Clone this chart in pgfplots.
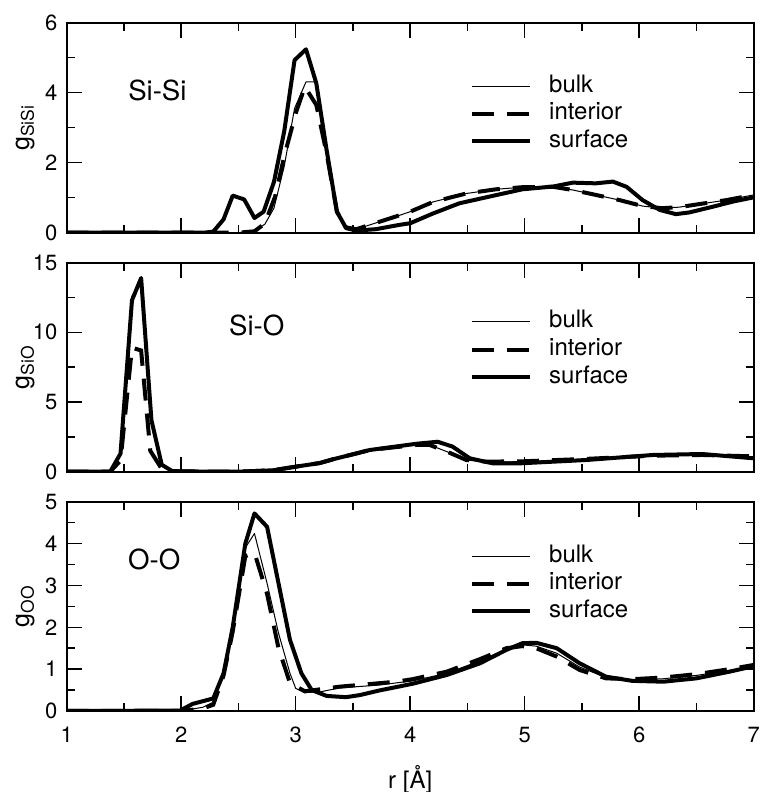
\documentclass[border=0pt]{standalone}
\usepackage{fontspec}
\setmainfont{TeX Gyre Heros}
\usepackage{pgfplots}
\pgfplotsset{compat=1.18}
\pgfplotsset{
  rdf/.style={
    scale only axis, width=343.5pt, anchor=south west,
    xmin=1, xmax=7, xtick={1,2,3,4,5,6,7}, minor x tick num=1,
    minor y tick num=1,
    tick align=inside,
    major tick length=7.5pt, minor tick length=4pt,
    axis line style={line width=1pt},
    every tick/.style={line width=0.75pt, black},
    /pgf/number format/assume math mode=true,
    tick label style={font=\fontsize{11}{13}\selectfont},
    yticklabel style={xshift=-1.2pt},
    xticklabel style={yshift=-4.5pt},
    legend cell align=left,
    legend image code/.code={\draw[##1] (0pt,0pt) -- (29pt,0pt);},
    legend style={draw=none, fill=none, inner sep=0pt, outer sep=0pt,
      font=\fontsize{12}{14}\selectfont, row sep=2.6pt,
      nodes={inner sep=0pt, text height=8.6pt, text depth=2.6pt},
      /tikz/every odd column/.style={column sep=8.6pt}},
    ylabel style={at={(axis description cs:-0.0607,0.5)}, anchor=center,
      font=\fontsize{12.5}{14}\selectfont},
  },
  bulk/.style={black, line width=0.5pt, line join=round},
  interior/.style={black, line width=2pt, dash pattern=on 11pt off 6.5pt},
  surface/.style={black, line width=2pt, line join=round},
}
\begin{document}
\begin{tikzpicture}
\useasboundingbox (0,0) rectangle (381pt,396pt);
% ---------------- Si-Si ----------------
\begin{axis}[rdf, at={(33.35pt,279.65pt)}, height=105pt,
  ymin=0, ymax=6, ytick={0,2,4,6}, xticklabels={},
  ylabel={g\textsubscript{SiSi}},
  legend style={at={(0.587,0.751)}, anchor=north west}]
\addplot[bulk] coordinates {(1.0,0) (2.5,0) (2.64,0.06) (2.73,0.24) (2.81,0.7) (2.90,1.9) (2.99,3.55) (3.09,4.31) (3.17,4.31) (3.27,2.3) (3.36,0.6) (3.44,0.15) (3.53,0.1) (3.73,0.31) (3.91,0.5) (4.0,0.6) (4.2,0.88) (4.49,1.12) (4.75,1.24) (4.98,1.30) (5.25,1.31) (5.42,1.22) (5.62,1.08) (5.83,0.93) (6.03,0.76) (6.2,0.7) (6.35,0.73) (6.53,0.82) (6.76,0.93) (7.0,1.08)};
\addlegendentry{bulk}
\addplot[interior] coordinates {(1.0,0) (2.5,0) (2.64,0.04) (2.73,0.26) (2.82,1.03) (2.90,2.18) (3.0,3.41) (3.08,4.17) (3.18,3.65) (3.27,2.27) (3.36,0.6) (3.44,0.15) (3.53,0.1) (3.73,0.31) (3.91,0.5) (4.0,0.6) (4.2,0.88) (4.49,1.12) (4.75,1.24) (4.98,1.30) (5.25,1.31) (5.42,1.22) (5.62,1.08) (5.83,0.93) (6.03,0.76) (6.2,0.7) (6.35,0.73) (6.53,0.82) (6.76,0.93) (7.0,1.08)};
\addlegendentry{interior}
\addplot[surface] coordinates {(1.0,0) (2.2,0) (2.28,0.03) (2.37,0.38) (2.45,1.06) (2.55,0.95) (2.64,0.42) (2.72,0.6) (2.81,1.45) (2.90,2.9) (2.99,4.93) (3.09,5.24) (3.18,4.27) (3.27,2.36) (3.36,0.6) (3.44,0.13) (3.53,0.06) (3.7,0.1) (3.9,0.22) (4.0,0.27) (4.2,0.55) (4.43,0.84) (4.69,1.03) (4.98,1.24) (5.25,1.32) (5.42,1.43) (5.62,1.41) (5.77,1.46) (5.89,1.31) (6.03,0.93) (6.18,0.65) (6.32,0.53) (6.44,0.58) (6.64,0.74) (6.82,0.89) (7.0,1.01)};
\addlegendentry{surface}
\node[font=\fontsize{13.8}{16}\selectfont] at (rel axis cs:0.132,0.676) {Si-Si};
\end{axis}
% ---------------- Si-O ----------------
\begin{axis}[rdf, at={(33.35pt,160.15pt)}, height=104.5pt,
  ymin=0, ymax=15, ytick={0,5,10,15}, xticklabels={},
  ylabel={g\textsubscript{SiO}},
  legend style={at={(0.587,0.770)}, anchor=north west}]
\addplot[bulk] coordinates {(1.0,0) (1.38,0) (1.47,1.2) (1.57,12.6) (1.65,13.6) (1.74,3.5) (1.83,0.4) (1.92,0.05) (2.0,0.02) (2.5,0) (2.8,0.1) (3.0,0.36) (3.21,0.62) (3.33,0.9) (3.65,1.56) (4.05,1.92) (4.17,1.92) (4.32,1.44) (4.49,0.84) (4.66,0.7) (5.0,0.72) (5.54,0.9) (6.12,1.15) (6.55,1.2) (7.0,1.08)};
\addlegendentry{bulk}
\addplot[interior] coordinates {(1.0,0) (1.38,0) (1.47,0.8) (1.57,8.9) (1.65,8.7) (1.73,1.5) (1.83,0.2) (1.92,0.03) (2.0,0.02) (2.5,0) (2.8,0.1) (3.0,0.36) (3.21,0.62) (3.33,0.9) (3.65,1.56) (4.05,1.92) (4.17,1.92) (4.32,1.44) (4.49,0.84) (4.66,0.72) (5.0,0.75) (5.54,0.92) (6.12,1.15) (6.55,1.2) (7.0,1.1)};
\addlegendentry{interior}
\addplot[surface] coordinates {(1.0,0) (1.38,0) (1.47,1.3) (1.57,12.3) (1.65,13.9) (1.74,3.7) (1.83,0.5) (1.92,0.05) (2.0,0.02) (2.5,0) (2.8,0.1) (3.0,0.36) (3.21,0.62) (3.33,0.9) (3.65,1.56) (4.05,2.0) (4.24,2.15) (4.37,1.8) (4.52,0.96) (4.72,0.6) (4.96,0.6) (5.54,0.84) (6.12,1.2) (6.55,1.27) (7.0,0.96)};
\addlegendentry{surface}
\node[font=\fontsize{13.8}{16}\selectfont] at (rel axis cs:0.2766,0.698) {Si-O};
\end{axis}
% ---------------- O-O ----------------
\begin{axis}[rdf, at={(33.35pt,40.5pt)}, height=104.65pt,
  ymin=0, ymax=5, ytick={0,1,2,3,4,5},
  ylabel={g\textsubscript{OO}},
  xlabel={r [Å]},
  xlabel style={at={(axis description cs:0.5,-0.368)}, anchor=base,
    font=\fontsize{12}{14}\selectfont},
  legend style={at={(0.587,0.793)}, anchor=north west}]
\addplot[bulk] coordinates {(1.0,0) (2.0,0) (2.19,0.09) (2.28,0.21) (2.37,0.9) (2.45,1.95) (2.56,3.9) (2.64,4.24) (2.75,3.05) (2.85,1.86) (2.95,0.9) (3.0,0.54) (3.08,0.44) (3.22,0.46) (3.38,0.55) (3.73,0.62) (4.02,0.72) (4.32,0.9) (4.61,1.2) (4.84,1.48) (4.98,1.58) (5.1,1.55) (5.28,1.38) (5.48,1.05) (5.71,0.8) (5.94,0.74) (6.21,0.77) (6.5,0.85) (6.79,0.97) (7.0,1.08)};
\addlegendentry{bulk}
\addplot[interior] coordinates {(1.0,0) (2.0,0) (2.19,0.06) (2.28,0.15) (2.37,0.85) (2.45,1.9) (2.56,3.7) (2.64,3.78) (2.75,2.8) (2.85,1.5) (2.95,0.67) (3.08,0.47) (3.22,0.52) (3.38,0.58) (3.88,0.7) (4.02,0.76) (4.32,0.94) (4.61,1.24) (4.84,1.5) (4.98,1.55) (5.1,1.5) (5.28,1.3) (5.48,0.98) (5.71,0.78) (5.94,0.76) (6.21,0.8) (6.5,0.88) (6.79,1.0) (7.0,1.1)};
\addlegendentry{interior}
\addplot[surface] coordinates {(1.0,0) (1.99,0.01) (2.1,0.17) (2.28,0.30) (2.37,0.9) (2.45,2.0) (2.56,4.0) (2.64,4.72) (2.75,4.4) (2.85,3.05) (2.95,1.7) (3.05,0.9) (3.14,0.5) (3.27,0.36) (3.44,0.33) (3.56,0.38) (3.73,0.49) (4.02,0.65) (4.32,0.86) (4.61,1.14) (4.84,1.46) (4.98,1.62) (5.1,1.63) (5.28,1.5) (5.48,1.14) (5.71,0.82) (5.94,0.72) (6.21,0.7) (6.5,0.78) (6.79,0.94) (7.0,1.07)};
\addlegendentry{surface}
\node[font=\fontsize{13.8}{16}\selectfont] at (rel axis cs:0.1275,0.725) {O-O};
\end{axis}
\end{tikzpicture}
\end{document}
